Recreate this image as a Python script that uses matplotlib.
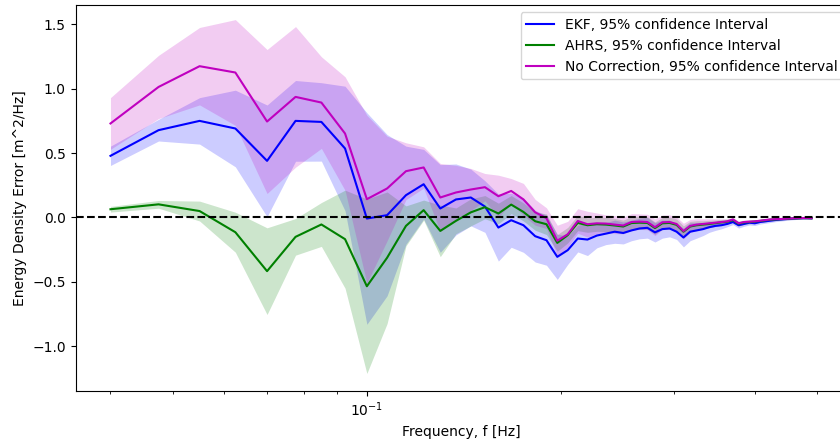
import numpy as np
import matplotlib
matplotlib.use('Agg')
import matplotlib.pyplot as plt

# frequency grid of the spectra (0.04 .. 0.49 Hz, df = 0.0075 Hz)
freq = np.round(np.arange(0.04, 0.49 + 1e-9, 0.0075), 4)

# EKF
ekf_mean = [0.478, 0.677, 0.749, 0.690, 0.439, 0.749, 0.741, 0.535,
	-0.008, 0.018, 0.173, 0.258, 0.070, 0.140, 0.155, 0.085,
	-0.078, -0.021, -0.060, -0.145, -0.176, -0.305, -0.253, -0.163, -0.171,
	-0.140, -0.125, -0.110, -0.120, -0.100, -0.085, -0.080, -0.115, -0.090, -0.085, -0.110,
	-0.155, -0.110, -0.100, -0.090, -0.075, -0.065, -0.060, -0.050, -0.035, -0.060,
	-0.050, -0.040, -0.045, -0.035, -0.030, -0.025, -0.020, -0.016, -0.013, -0.010,
	-0.008, -0.006, -0.005, -0.005, -0.006]
ekf_err = [0.075, 0.084, 0.180, 0.297, 0.433, 0.313, 0.304, 0.483,
	0.820, 0.625, 0.380, 0.270, 0.340, 0.275, 0.220, 0.200,
	0.260, 0.210, 0.210, 0.200, 0.194, 0.175, 0.110, 0.104, 0.124,
	0.095, 0.085, 0.090, 0.085, 0.080, 0.080, 0.080, 0.075, 0.070, 0.065, 0.060,
	0.073, 0.070, 0.060, 0.050, 0.040, 0.035, 0.028, 0.022, 0.020, 0.022,
	0.018, 0.018, 0.017, 0.016, 0.015, 0.014, 0.013, 0.012, 0.011, 0.010,
	0.009, 0.008, 0.007, 0.007, 0.006]

# AHRS
ahrs_mean = [0.064, 0.102, 0.050, -0.114, -0.416, -0.150, -0.054, -0.168,
	-0.533, -0.312, -0.065, 0.057, -0.104, -0.026, 0.040, 0.080,
	0.031, 0.100, 0.043, -0.029, -0.052, -0.197, -0.137, -0.042, -0.060,
	-0.052, -0.055, -0.062, -0.070, -0.043, -0.040, -0.042, -0.082, -0.045, -0.042, -0.057,
	-0.110, -0.070, -0.060, -0.055, -0.050, -0.044, -0.038, -0.033, -0.020, -0.048,
	-0.038, -0.035, -0.032, -0.027, -0.022, -0.017, -0.015, -0.013, -0.011, -0.009,
	-0.007, -0.006, -0.005, -0.005, -0.006]
ahrs_err = [0.022, 0.030, 0.077, 0.155, 0.336, 0.142, 0.170, 0.380,
	0.676, 0.510, 0.155, 0.078, 0.200, 0.100, 0.105, 0.090,
	0.080, 0.070, 0.070, 0.070, 0.080, 0.065, 0.060, 0.060, 0.055,
	0.055, 0.055, 0.055, 0.050, 0.050, 0.050, 0.048, 0.048, 0.045, 0.045, 0.045,
	0.045, 0.040, 0.035, 0.030, 0.028, 0.025, 0.022, 0.020, 0.016, 0.018,
	0.015, 0.014, 0.013, 0.012, 0.011, 0.010, 0.009, 0.009, 0.008, 0.008,
	0.007, 0.007, 0.006, 0.006, 0.006]

# no correction
nocorr_mean = [0.729, 1.012, 1.173, 1.124, 0.744, 0.935, 0.891, 0.651,
	0.142, 0.225, 0.359, 0.388, 0.155, 0.194, 0.217, 0.235,
	0.165, 0.206, 0.140, 0.040, -0.005, -0.180, -0.130, -0.027, -0.052,
	-0.045, -0.047, -0.055, -0.062, -0.035, -0.032, -0.035, -0.075, -0.037, -0.035, -0.050,
	-0.105, -0.065, -0.055, -0.050, -0.045, -0.040, -0.035, -0.030, -0.015, -0.045,
	-0.035, -0.032, -0.030, -0.025, -0.020, -0.015, -0.013, -0.012, -0.010, -0.008,
	-0.006, -0.005, -0.004, -0.004, -0.005]
nocorr_err = [0.200, 0.245, 0.300, 0.410, 0.558, 0.545, 0.355, 0.440,
	0.650, 0.405, 0.220, 0.160, 0.264, 0.210, 0.163, 0.106,
	0.163, 0.096, 0.124, 0.100, 0.080, 0.120, 0.100, 0.095, 0.100,
	0.080, 0.067, 0.070, 0.065, 0.065, 0.060, 0.060, 0.065, 0.055, 0.055, 0.055,
	0.060, 0.050, 0.045, 0.040, 0.035, 0.030, 0.025, 0.020, 0.015, 0.018,
	0.015, 0.014, 0.013, 0.012, 0.011, 0.010, 0.009, 0.009, 0.008, 0.008,
	0.007, 0.007, 0.006, 0.006, 0.006]

series = [
	(ekf_mean, ekf_err, 'b', 'EKF, 95% confidence Interval'),
	(ahrs_mean, ahrs_err, 'g', 'AHRS, 95% confidence Interval'),
	(nocorr_mean, nocorr_err, 'm', 'No Correction, 95% confidence Interval'),
]

fig = plt.figure(figsize=(8.4, 4.42), dpi=100)
# axes runs a bit past the right edge of the picture (as in the original crop)
ax = fig.add_axes([75.5/840, 1 - 391/442, (846.7 - 75.5)/840, (391 - 5.3)/442])

for mean, err, c, lab in series:
	mean = np.array(mean)
	err = np.array(err)
	ax.fill_between(freq, mean - err, mean + err, color=c, alpha=0.2, linewidth=0)

for mean, err, c, lab in series:
	ax.plot(freq, mean, color=c, linewidth=1.5, label=lab)

ax.axhline(0, color='k', linestyle='--', linewidth=1.5)

ax.set_xscale('log')
ax.set_xlim(0.0353, 0.5556)
ax.set_ylim(-1.345, 1.645)
ax.set_xlabel('Frequency, f [Hz]')
ax.set_ylabel('Energy Density Error [m^2/Hz]')
# legend box sits partly outside the picture in the original
ax.legend(loc='upper left', bbox_to_anchor=(520.7/840, 1 - 12.3/442),
	bbox_transform=fig.transFigure, borderaxespad=0)

fig.savefig('out.png', dpi=100)
